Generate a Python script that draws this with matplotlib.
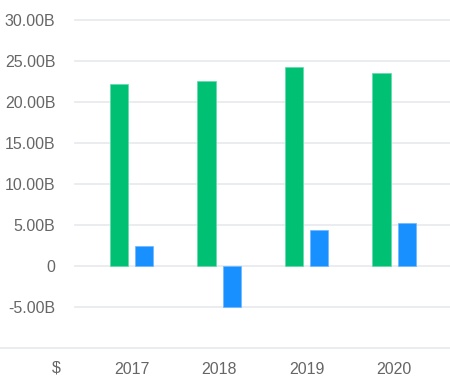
import matplotlib.pyplot as plt
from matplotlib.lines import Line2D
import numpy as np

plt.rcParams['font.family'] = ['Liberation Sans', 'DejaVu Sans']

years = ['2017', '2018', '2019', '2020']
green_vals = [22.17, 22.53, 24.19, 23.46]   # billions
blue_vals = [2.43, -5.01, 4.37, 5.18]       # billions
yticks = [-5, 0, 5, 10, 15, 20, 25, 30]
ytick_labels = ['-5.00B', '0', '5.00B', '10.00B', '15.00B', '20.00B', '25.00B', '30.00B']

W, H = 450, 379
fig = plt.figure(figsize=(W / 100, H / 100), dpi=100)
ax = fig.add_axes([75 / W, (H - 348) / H, 375 / W, (348 - 19.5) / H])

x = np.arange(len(years))
bw = 0.206
off = 0.143
ax.bar(x - off, green_vals, bw, color='#00C073', edgecolor='#5fdca8', linewidth=0.5, zorder=3)
ax.bar(x + off, blue_vals, bw, color='#1890FF', edgecolor='#6cb7ff', linewidth=0.5, zorder=3)

ax.set_xlim(-0.646, 3.64)
ax.set_ylim(-10, 30)
ax.set_yticks(yticks)
ax.set_yticklabels(ytick_labels)
ax.set_xticks(x)
ax.set_xticklabels(years)

for v in yticks:
    ax.axhline(v, color='#e6e9ee', linewidth=1.2, zorder=1, clip_on=False)

for s in ax.spines.values():
    s.set_visible(False)
ax.tick_params(axis='both', length=0, labelsize=11.5, colors='#666666')
ax.tick_params(axis='y', pad=14)
ax.tick_params(axis='x', pad=10)

# bottom line spanning full width
fig.add_artist(Line2D([0, 1], [(H - 348) / H] * 2, color='#e6e9ee', linewidth=1.2))
fig.text(56 / W, (H - 368) / H, '$', ha='center', va='center', fontsize=11.5, color='#666666')

fig.savefig('out.png', dpi=100)
